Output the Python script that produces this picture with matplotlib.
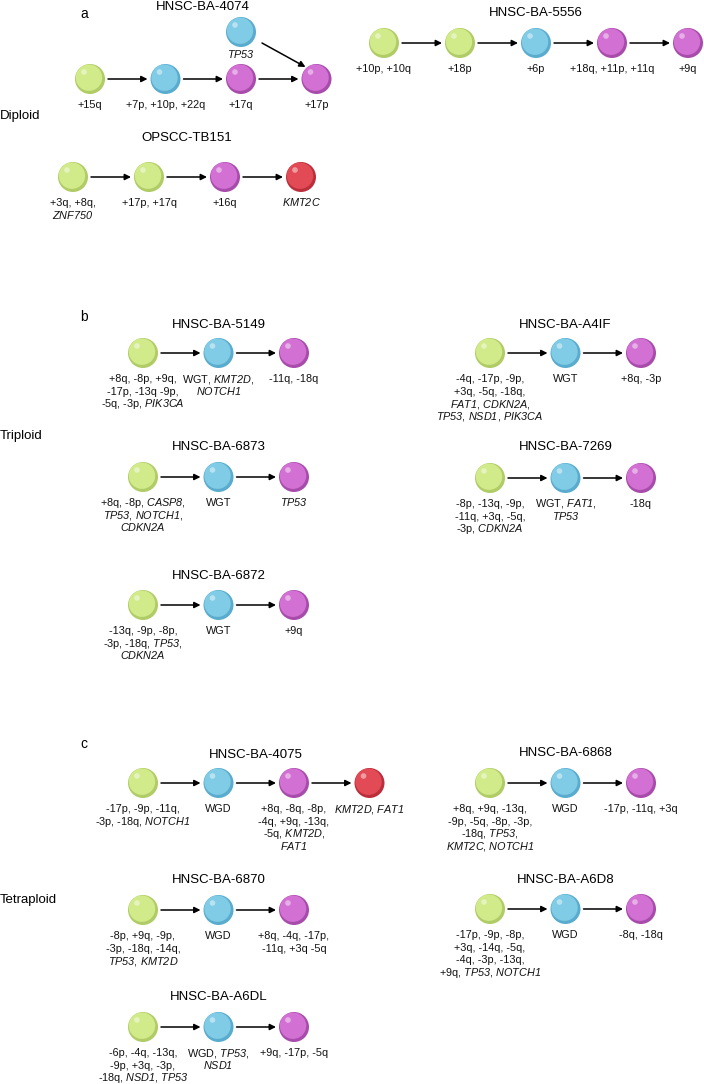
import re

import matplotlib.pyplot as plt
from matplotlib.patches import Circle


plt.rcParams.update(
    {
        "font.family": ["Liberation Sans", "DejaVu Sans"],
        "mathtext.fontset": "custom",
        "mathtext.rm": "Liberation Sans",
        "mathtext.it": "Liberation Sans:italic",
        # \mathsf is used for gene names so digits stay italic too
        "mathtext.sf": "Liberation Sans:italic",
    }
)

# clone colours: G = founding clone, B = second, M = third, R = fourth
SHADES = {
    "G": ("#d1ea8a", "#b0cc66"),
    "B": ("#80cbe5", "#5aacce"),
    "M": ("#d271d3", "#a84cab"),
    "R": ("#e24b55", "#bb2f3c"),
}

GENES = ["ZNF750", "KMT2C", "KMT2D", "TP53", "NOTCH1", "PIK3CA", "FAT1", "CDKN2A", "NSD1", "CASP8"]

PANELS = ["a", "b", "c"]
PLOIDY = ["Diploid", "Triploid", "Tetraploid"]

NAMES = [
    "HNSC-BA-4074", "HNSC-BA-5556", "OPSCC-TB151",
    "HNSC-BA-5149", "HNSC-BA-A4IF", "HNSC-BA-6873", "HNSC-BA-7269", "HNSC-BA-6872",
    "HNSC-BA-4075", "HNSC-BA-6868", "HNSC-BA-6870", "HNSC-BA-A6D8", "HNSC-BA-A6DL",
]

CLONES = [
    "GBMM", "GGBMM", "GGMR",
    "GBM", "GBM", "GBM", "GBM", "GBM",
    "GBMR", "GBM", "GBM", "GBM", "GBM",
]

LABELS = [
    ["+15q", "+7p, +10p, +22q", "+17q", "+17p"],
    ["+10p, +10q", "+18p", "+6p", "+18q, +11p, +11q", "+9q"],
    ["+3q, +8q,\nZNF750", "+17p, +17q", "+16q", "KMT2C"],
    ["+8q, -8p, +9q,\n-17p, -13q -9p,\n-5q, -3p, PIK3CA", "WGT, KMT2D,\nNOTCH1", "-11q, -18q"],
    ["-4q, -17p, -9p,\n+3q, -5q, -18q,\nFAT1, CDKN2A,\nTP53, NSD1, PIK3CA", "WGT", "+8q, -3p"],
    ["+8q, -8p, CASP8,\nTP53, NOTCH1,\nCDKN2A", "WGT", "TP53"],
    ["-8p, -13q, -9p,\n-11q, +3q, -5q,\n-3p, CDKN2A", "WGT, FAT1,\nTP53", "-18q"],
    ["-13q, -9p, -8p,\n-3p, -18q, TP53,\nCDKN2A", "WGT", "+9q"],
    ["-17p, -9p, -11q,\n-3p, -18q, NOTCH1", "WGD",
     "+8q, -8q, -8p,\n-4q, +9q, -13q,\n-5q, KMT2D,\nFAT1", "KMT2D, FAT1"],
    ["+8q, +9q, -13q,\n-9p, -5q, -8p, -3p,\n-18q, TP53,\nKMT2C, NOTCH1", "WGD", "-17p, -11q, +3q"],
    ["-8p, +9q, -9p,\n-3p, -18q, -14q,\nTP53, KMT2D", "WGD", "+8q, -4q, -17p,\n-11q, +3q -5q"],
    ["-17p, -9p, -8p,\n+3q, -14q, -5q,\n-4q, -3p, -13q,\n+9q, TP53, NOTCH1", "WGD", "-8q, -18q"],
    ["-6p, -4q, -13q,\n-9p, +3q, -3p,\n-18q, NSD1, TP53", "WGD, TP53,\nNSD1", "+9q, -17p, -5q"],
]

# side branch of HNSC-BA-4074: a TP53 clone joining the last clone
BRANCH_CLONE = "B"
BRANCH_LABEL = "TP53"

# layout (pixels): first node x, node row y, node spacing, title y
LAYOUT = [
    (90, 79, 75.5, 7), (384, 43, 76, 13), (73, 177, 76, 138),
    (143, 353, 75.5, 325), (490, 353, 75.5, 325), (143, 477, 75.5, 447),
    (490, 478, 75.5, 447), (143, 605, 75.5, 576),
    (143, 783, 75.5, 755), (490, 783, 75.5, 753), (143, 910, 75.5, 880),
    (490, 909, 75.5, 880), (143, 1027, 75.5, 997),
]
PANEL_POS = [(80, 14), (80, 317), (80, 744)]
PLOIDY_POS = [(0, 116), (0, 436), (0, 900)]
R = 15
LINE_H = 12.6


def rich(s):
    for g in GENES:
        s = re.sub(r"\b%s\b" % g, r"$\\mathsf{%s}$" % g, s)
    return s


def sphere(ax, x, y, key):
    light, dark = SHADES[key]
    ax.add_patch(Circle((x, y), R, facecolor=dark, edgecolor="none", zorder=3))
    ax.add_patch(Circle((x - 1.0, y - 1.3), R - 1.8, facecolor=light, edgecolor="none", zorder=4))
    ax.add_patch(Circle((x - 6.0, y - 7.0), 2.8, facecolor="white", alpha=0.45,
                        edgecolor="none", zorder=5))


def arrow(ax, p0, p1):
    ax.annotate("", xy=p1, xytext=p0,
                arrowprops=dict(arrowstyle="-|>", color="black", lw=1.1,
                                mutation_scale=9, shrinkA=0, shrinkB=0), zorder=2)


def node_label(ax, x, y, text, first=29):
    # one text per line so mixed italic lines keep an even spacing
    for k, line in enumerate(text.split("\n")):
        ax.text(x, y + first + k * LINE_H, rich(line), ha="center", va="baseline",
                fontsize=7.8, color="#111111")


def main():
    fig = plt.figure(figsize=(7.04, 10.84), dpi=100)
    ax = fig.add_axes([0, 0, 1, 1])
    ax.set_xlim(0, 704)
    ax.set_ylim(1084, 0)
    ax.axis("off")

    for letter, (px, py) in zip(PANELS, PANEL_POS):
        ax.text(px, py, letter, fontsize=10, ha="left", va="center")
    for word, (px, py) in zip(PLOIDY, PLOIDY_POS):
        ax.text(px, py, word, fontsize=9.5, ha="left", va="center")

    for name, clones, labels, (x0, y, step, ty) in zip(NAMES, CLONES, LABELS, LAYOUT):
        xs = [x0 + i * step for i in range(len(clones))]
        ax.text((xs[0] + xs[-1]) / 2, ty, name, fontsize=9.5, ha="center", va="center")
        for i, (x, c, lab) in enumerate(zip(xs, clones, labels)):
            sphere(ax, x, y, c)
            node_label(ax, x, y, lab)
            if i + 1 < len(xs):
                arrow(ax, (x + R + 3, y), (xs[i + 1] - R - 3, y))
        if name == "HNSC-BA-4074":
            bx, by = xs[2], y - 47
            sphere(ax, bx, by, BRANCH_CLONE)
            node_label(ax, bx, by, BRANCH_LABEL, first=26)
            arrow(ax, (bx + 21, by + 11), (xs[3] - 11, y - 12))

    fig.savefig("out.png", dpi=100)
    plt.close(fig)


if __name__ == "__main__":
    main()
